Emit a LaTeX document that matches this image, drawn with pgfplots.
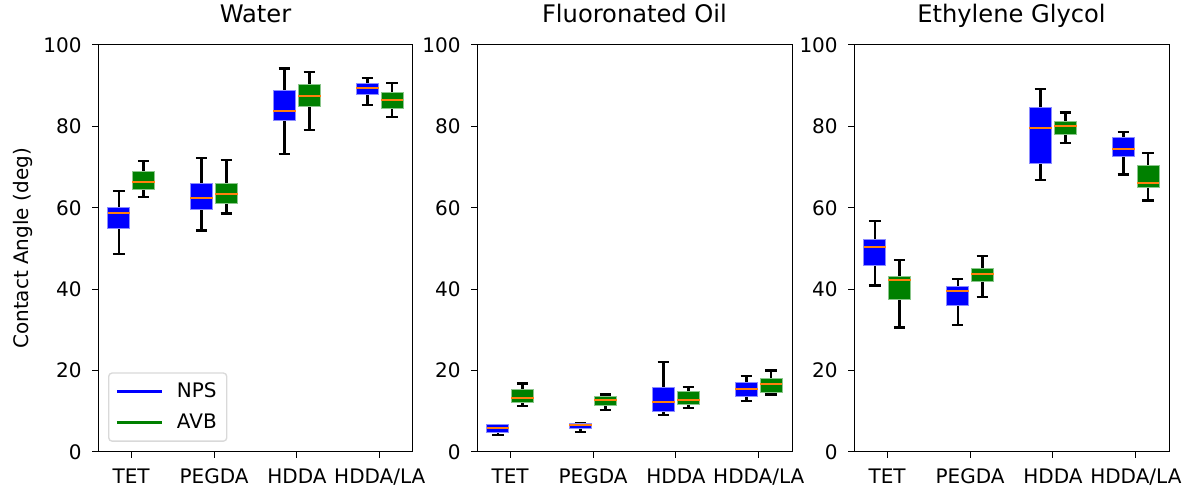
\documentclass[border=0pt]{standalone}
\usepackage{fontspec}
\setmainfont{DejaVu Sans}
\usepackage{pgfplots}
\pgfplotsset{compat=1.18}
\usepgfplotslibrary{statistics}
\definecolor{mplorange}{HTML}{FF7F0E}
\definecolor{mplgreen}{HTML}{008000}
\tikzset{
  nps/.style={draw=blue!45, fill=blue, line width=0.6pt},
  avb/.style={draw=mplgreen!45, fill=mplgreen, line width=0.6pt},
}
\pgfplotsset{
  panel/.style={
    scale only axis, width=189pt, height=244.2pt,
    anchor=south west,
    xmin=0.6, xmax=4.4, ymin=0, ymax=100,
    xtick={1,2,3,4}, xticklabels={TET,PEGDA,HDDA,HDDA/LA},
    ytick={0,20,40,60,80,100},
    tick align=outside, tick pos=left,
    major tick length=3.6pt,
    tick style={black, line width=0.6pt},
    axis line style={line width=0.6pt},
    /pgf/number format/assume math mode=true,
    ticklabel style={font=\fontsize{12}{14}\selectfont},
    xticklabel style={anchor=base, yshift=-15.5pt},
    yticklabel style={anchor=east, inner sep=0pt, xshift=-6pt},
    title style={font=\fontsize{14.5}{17}\selectfont, at={(0.5,1)}, anchor=base, yshift=7.5pt},
  },
}
\newcommand{\bx}[7]{%
  \addplot[black, line width=1.35pt, boxplot prepared={draw direction=y, draw position=#1,
    lower whisker=#2, lower quartile=#3, median=#4, upper quartile=#5, upper whisker=#6,
    box extend=0.27, whisker extend=0.14,
    every box/.style={#7},
    every whisker/.style={draw=black, line width=1.35pt},
    every median/.style={draw=mplorange, line width=1.2pt}}] coordinates {};}
\begin{document}
\begin{tikzpicture}
\path[use as bounding box] (0,0) rectangle (715.2pt,293.4pt);
% Water
\begin{axis}[panel, at={(58.8pt,22.2pt)}, title={Water},
  ylabel={Contact Angle (deg)},
  ylabel style={font=\fontsize{12}{14}\selectfont, at={(axis description cs:-0.2222,0.5)}, anchor=base},
  legend style={at={(0.032,0.025)}, anchor=south west, draw=black!15, line width=0.8pt, rounded corners=2pt,
    font=\fontsize{12}{14}\selectfont, row sep=4.2pt, inner xsep=4pt, inner ysep=4pt},
  legend cell align=left,
  legend image code/.code={\draw[#1, line width=1.8pt] (0pt,0pt) -- (27pt,0pt); \path[draw=none, fill=none] (0pt,0pt) -- (34pt,0pt);}]
\addlegendimage{blue}\addlegendentry{NPS}
\addlegendimage{mplgreen}\addlegendentry{AVB}
\bx{0.85}{48.6}{55.0}{58.6}{60.0}{64.1}{nps}
\bx{1.15}{62.6}{64.6}{66.3}{68.9}{71.5}{avb}
\bx{1.85}{54.4}{59.7}{62.5}{66.0}{72.2}{nps}
\bx{2.15}{58.6}{61.1}{63.5}{65.9}{71.7}{avb}
\bx{2.85}{73.2}{81.4}{83.8}{88.8}{94.2}{nps}
\bx{3.15}{79.2}{84.9}{87.5}{90.3}{93.4}{avb}
\bx{3.85}{85.3}{87.8}{89.5}{90.5}{91.8}{nps}
\bx{4.15}{82.3}{84.3}{86.6}{88.3}{90.7}{avb}
\end{axis}
% Fluoronated Oil
\begin{axis}[panel, at={(286.2pt,22.2pt)}, title={Fluoronated Oil}]
\bx{0.85}{4.1}{4.8}{5.9}{6.7}{6.7}{nps}
\bx{1.15}{11.3}{12.2}{13.3}{15.4}{16.8}{avb}
\bx{1.85}{5.0}{5.7}{6.6}{7.1}{7.2}{nps}
\bx{2.15}{10.4}{11.4}{12.7}{13.6}{14.1}{avb}
\bx{2.85}{9.0}{10.0}{12.4}{15.9}{22.1}{nps}
\bx{3.15}{10.9}{11.7}{12.7}{14.9}{16.0}{avb}
\bx{3.85}{12.5}{13.7}{15.6}{17.0}{18.6}{nps}
\bx{4.15}{14.1}{14.6}{16.7}{18.1}{20.0}{avb}
\end{axis}
% Ethylene Glycol
\begin{axis}[panel, at={(512.4pt,22.2pt)}, title={Ethylene Glycol}]
\bx{0.85}{40.9}{45.9}{50.3}{52.2}{56.8}{nps}
\bx{1.15}{30.6}{37.5}{42.2}{43.0}{47.1}{avb}
\bx{1.85}{31.2}{35.9}{39.5}{40.7}{42.5}{nps}
\bx{2.15}{38.0}{41.8}{43.7}{45.2}{48.1}{avb}
\bx{2.85}{66.9}{70.9}{79.5}{84.7}{89.1}{nps}
\bx{3.15}{75.9}{78.0}{80.2}{81.3}{83.4}{avb}
\bx{3.85}{68.2}{72.6}{74.4}{77.2}{78.7}{nps}
\bx{4.15}{61.8}{64.9}{66.2}{70.5}{73.5}{avb}
\end{axis}
\end{tikzpicture}
\end{document}
